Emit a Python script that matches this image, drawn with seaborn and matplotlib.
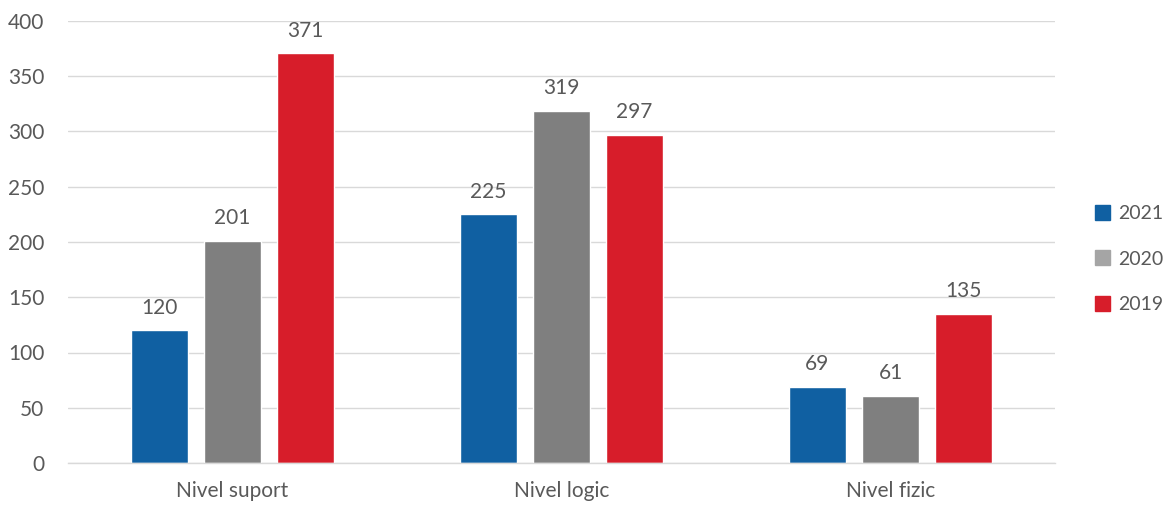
import pandas as pd
import matplotlib.pyplot as plt
import seaborn as sns
from matplotlib.patches import Patch

categories = ["Nivel suport", "Nivel logic", "Nivel fizic"]
years = ["2021", "2020", "2019"]
values_2021 = [120, 225, 69]
values_2020 = [201, 319, 61]
values_2019 = [371, 297, 135]

colors = {"2021": "#1060A2", "2020": "#7F7F7F", "2019": "#D71D2A"}
legend_colors = {"2021": "#1060A2", "2020": "#A5A5A5", "2019": "#D71D2A"}

df = pd.DataFrame({
    "category": categories * 3,
    "year": ["2021"] * 3 + ["2020"] * 3 + ["2019"] * 3,
    "value": values_2021 + values_2020 + values_2019,
})

sns.set_theme(style="white")
plt.rcParams["font.family"] = ["Lato", "DejaVu Sans"]
text_color = "#595959"
fs = 15

fig = plt.figure(figsize=(11.69, 5.09), dpi=100)
ax = fig.add_axes([68 / 1169, 46 / 509, 987 / 1169, 442 / 509])

sns.barplot(data=df, x="category", y="value", hue="year", hue_order=years,
            palette=colors, width=0.666, gap=0.22, ax=ax, legend=False,
            saturation=1, errorbar=None)

for c in ax.containers:
    ax.bar_label(c, padding=9, fontsize=fs, color=text_color)

ax.set_ylim(0, 400)
ax.set_yticks(range(0, 401, 50))
ax.set_xlim(-0.5, 2.5)
ax.yaxis.grid(True, color="#D9D9D9", linewidth=1)
ax.set_axisbelow(True)
for s in ["top", "right", "left"]:
    ax.spines[s].set_visible(False)
ax.spines["bottom"].set_color("#D9D9D9")
ax.spines["bottom"].set_linewidth(1)
ax.tick_params(axis="both", length=0, labelsize=fs, colors=text_color)
ax.tick_params(axis="y", pad=17)
ax.tick_params(axis="x", pad=13)
ax.set_xlabel("")
ax.set_ylabel("")

handles = [Patch(color=legend_colors[y], label=y) for y in years]
fig.legend(handles=handles, loc="center left", bbox_to_anchor=(1077 / 1169, 1 - 259 / 509),
           frameon=False, fontsize=14, labelcolor=text_color, handlelength=0.8,
           handleheight=0.8, handletextpad=0.4, labelspacing=1.45)

fig.savefig("out.png", dpi=100)
